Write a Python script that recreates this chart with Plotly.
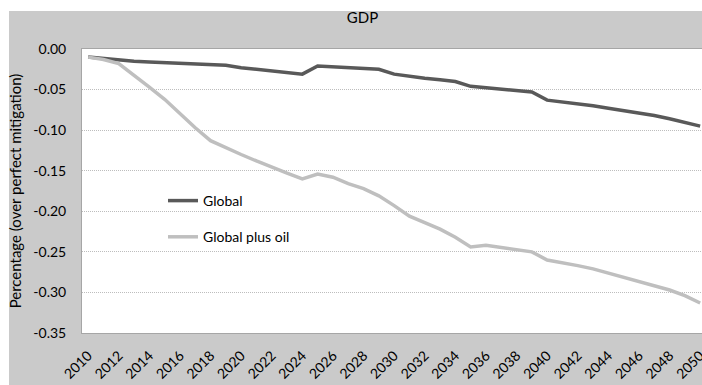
import plotly.graph_objects as go

years = list(range(2010, 2051))

global_vals = [
    -0.010, -0.012, -0.013, -0.015, -0.016, -0.017, -0.018, -0.018, -0.019, -0.020,
    -0.023, -0.025, -0.026, -0.028, -0.031, -0.021, -0.022, -0.023, -0.024, -0.025,
    -0.031, -0.034, -0.036, -0.038, -0.040, -0.046, -0.048, -0.050, -0.052, -0.053,
    -0.063, -0.065, -0.067, -0.070, -0.073, -0.076, -0.078, -0.082, -0.086, -0.090,
    -0.095,
]

global_oil_vals = [
    -0.010, -0.013, -0.018, -0.032, -0.047, -0.062, -0.080, -0.097, -0.113, -0.122,
    -0.130, -0.138, -0.146, -0.153, -0.160, -0.154, -0.158, -0.166, -0.172, -0.181,
    -0.193, -0.206, -0.214, -0.222, -0.232, -0.244, -0.242, -0.245, -0.248, -0.250,
    -0.260, -0.263, -0.267, -0.271, -0.276, -0.281, -0.286, -0.291, -0.297, -0.304,
    -0.313,
]

x_tick_vals = list(range(2010, 2051, 2))
x_tick_text = [str(v) for v in x_tick_vals]
y_tick_vals = [0.0, -0.05, -0.10, -0.15, -0.20, -0.25, -0.30, -0.35]
y_tick_text = ["0.00", "-0.05", "-0.10", "-0.15", "-0.20", "-0.25", "-0.30", "-0.35"]

W, H = 702, 385
ML, MR, MT, MB = 82, 0, 49, 52
PW, PH = W - ML - MR, H - MT - MB

FONT = "Lato, 'Open Sans', sans-serif"

fig = go.Figure()
fig.add_trace(go.Scatter(
    x=years, y=global_vals, mode="lines", name="Global",
    line=dict(color="#595959", width=3.5), legendgroup="a",
))
fig.add_trace(go.Scatter(
    x=years, y=global_oil_vals, mode="lines", name="Global plus oil",
    line=dict(color="#bfbfbf", width=3.5), legendgroup="b",
))


def px_to_paper_x(px):
    return (px - ML) / PW


def px_to_paper_y(py):
    return (H - MB - py) / PH


# white strips outside the grey chart area (top and left)
shapes = [
    dict(type="rect", xref="paper", yref="paper", layer="above",
         x0=px_to_paper_x(-2), x1=px_to_paper_x(9), y0=px_to_paper_y(H + 2), y1=px_to_paper_y(-2),
         fillcolor="white", line=dict(width=0)),
    dict(type="rect", xref="paper", yref="paper", layer="above",
         x0=px_to_paper_x(-2), x1=px_to_paper_x(W + 2), y0=px_to_paper_y(11), y1=px_to_paper_y(-2),
         fillcolor="white", line=dict(width=0)),
]

fig.update_layout(
    width=W, height=H,
    margin=dict(l=ML, r=MR, t=MT, b=MB, autoexpand=False),
    paper_bgcolor="#cacaca",
    plot_bgcolor="white",
    font=dict(family=FONT, size=13, color="#000000"),
    title=dict(text="GDP", x=362.5 / W, xref="container", xanchor="center",
               y=1 - 18 / H, yref="container", yanchor="middle",
               font=dict(family=FONT, size=15, color="#000000")),
    showlegend=True,
    legend=dict(
        x=px_to_paper_x(163), y=px_to_paper_y(185), xanchor="left", yanchor="top",
        bgcolor="rgba(0,0,0,0)", font=dict(family=FONT, size=14, color="#000000"),
        traceorder="grouped", tracegroupgap=15, itemwidth=30,
    ),
    shapes=shapes,
)

fig.update_xaxes(
    range=[2009.6, 2050.12], tickvals=x_tick_vals, ticktext=x_tick_text,
    tickangle=-45, showgrid=False, zeroline=False,
    showline=True, linecolor="#a6a6a6", linewidth=1, mirror=True,
    ticks="", ticklabelstandoff=8, ticklabeloverflow="allow",
    tickfont=dict(family=FONT, size=14),
)
fig.update_yaxes(
    range=[-0.35, 0.0], tickvals=y_tick_vals, ticktext=y_tick_text,
    showgrid=True, gridcolor="#bdbdbd", griddash="1px,1px", gridwidth=1,
    zeroline=False, showline=True, linecolor="#a6a6a6", linewidth=1, mirror=True,
    ticks="", ticklabelstandoff=12, tickfont=dict(family=FONT, size=14),
    title=dict(text="Percentage (over perfect mitigation)", standoff=8,
               font=dict(family=FONT, size=15)),
)

fig.write_html("out.html")
